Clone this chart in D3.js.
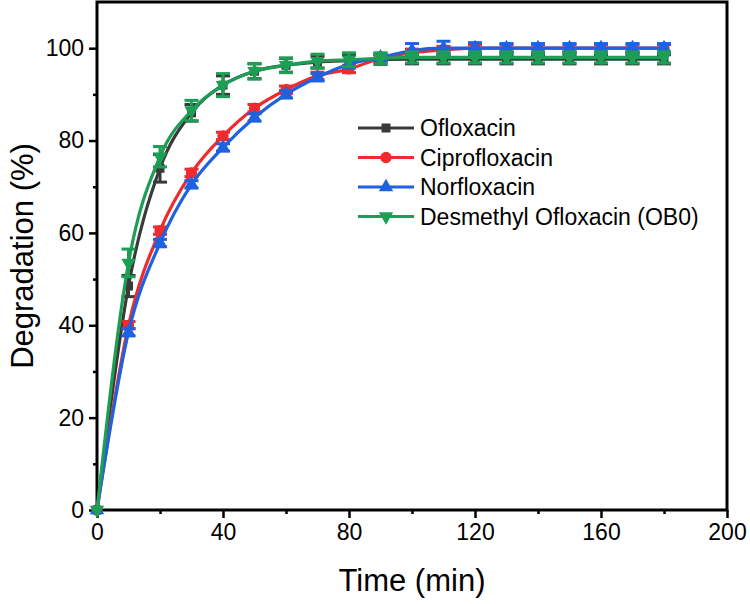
<!DOCTYPE html>
<html>
<head>
<meta charset="utf-8">
<script src="https://cdn.jsdelivr.net/npm/d3@7"></script>
<style>
	body { margin: 0; background: #fff; }
	svg text { font-family: "Liberation Sans", Arial, sans-serif; fill: #000; }
</style>
</head>
<body>
<div id="graphe"></div>
<script>
"use strict";

// DONNÉES

var temps = [0, 10, 20, 30, 40, 50, 60, 70, 80, 90, 100, 110, 120, 130, 140, 150, 160, 170, 180];

var ofloxacine = [0, 48.5, 74, 86, 92, 95, 96.3, 97, 97.3, 97.5, 97.6, 97.6, 97.6, 97.6, 97.6, 97.6, 97.6, 97.6, 97.6];
var ofloxacineErr = [0, 2.3, 3, 1.8, 2, 1.6, 1.5, 1.3, 1.2, 1, 1, 1, 1, 1, 1, 1, 1, 1, 1];

var ciprofloxacine = [0, 40, 60.5, 73, 81, 87, 91, 94, 95.5, 97.8, 99, 99.6, 100, 100, 100, 100, 100, 100, 100];
var ciprofloxacineErr = [0, 0.8, 0.8, 0.8, 0.8, 0.8, 0.8, 0.8, 0.8, 0.8, 0.8, 0.8, 0.8, 0.8, 0.8, 0.8, 0.8, 0.8, 0.8];

var norfloxacine = [0, 38.5, 57.8, 70.5, 78.5, 85, 90, 93.7, 96.5, 98, 99.5, 100, 100, 100, 100, 100, 100, 100, 100];
var norfloxacineErr = [0, 0.8, 0.8, 0.8, 0.8, 0.8, 0.8, 0.8, 0.8, 0.8, 1.5, 1.5, 1.2, 1, 1, 1, 1, 1, 1];

var desmethyl = [0, 53.5, 76.5, 86.5, 92, 95, 96.3, 97.2, 97.5, 97.8, 98, 98, 98, 98, 98, 98, 98, 98, 98];
var desmethylErr = [0, 3, 2.2, 2.2, 2.5, 1.7, 1.6, 1.5, 1.5, 1.2, 1.2, 1.2, 1.2, 1.2, 1.2, 1.2, 1.2, 1.2, 1.2];

var noms = ["Ofloxacin", "Ciprofloxacin", "Norfloxacin", "Desmethyl Ofloxacin (OB0)"];
var couleurs = ["#3a3a3a", "#ef2b2d", "#1f62e0", "#1c9f55"];
var ticksX = [0, 40, 80, 120, 160, 200];
var ticksY = [0, 20, 40, 60, 80, 100];

var series = [
	{ nom: noms[0], valeurs: ofloxacine, erreurs: ofloxacineErr, couleur: couleurs[0], symbole: d3.symbolSquare, taille: 81, rot: 0 },
	{ nom: noms[1], valeurs: ciprofloxacine, erreurs: ciprofloxacineErr, couleur: couleurs[1], symbole: d3.symbolCircle, taille: 100, rot: 0 },
	{ nom: noms[2], valeurs: norfloxacine, erreurs: norfloxacineErr, couleur: couleurs[2], symbole: d3.symbolTriangle, taille: 90, rot: 0 },
	{ nom: noms[3], valeurs: desmethyl, erreurs: desmethylErr, couleur: couleurs[3], symbole: d3.symbolTriangle, taille: 90, rot: 180 }
];

// DIMENSIONS

var largeur = 750, hauteur = 604;
var marge = { top: 2, right: 23, bottom: 94, left: 97 };

var x = d3.scaleLinear()
.domain([0, 200])
.range([marge.left, largeur - marge.right]);

var y = d3.scaleLinear()
.domain([0, 110])
.range([hauteur - marge.bottom, marge.top]);

var svg = d3.select("#graphe")
.append("svg")
.attr("width", largeur)
.attr("height", hauteur);

// axes : mineurs puis majeurs
var gX = svg.append("g")
.attr("transform", "translate(0," + y(0) + ")");
gX.call(d3.axisBottom(x)
	.tickValues(d3.range(20, 200, 40))
	.tickSize(4)
	.tickFormat(""));
gX.call(g => g.append("g").call(d3.axisBottom(x)
	.tickValues(ticksX)
	.tickSize(8)
	.tickPadding(6)));

var gY = svg.append("g")
.attr("transform", "translate(" + x(0) + ",0)");
gY.call(d3.axisLeft(y)
	.tickValues(d3.range(10, 110, 20))
	.tickSize(4)
	.tickFormat(""));
gY.call(g => g.append("g").call(d3.axisLeft(y)
	.tickValues(ticksY)
	.tickSize(8)
	.tickPadding(5)));

svg.selectAll(".domain").remove();
svg.selectAll(".tick line")
.attr("stroke", "#000")
.attr("stroke-width", 2.5);
svg.selectAll(".tick text")
.style("font-size", "23px")
.style("font-family", "Liberation Sans, Arial, sans-serif");

// cadre
svg.append("rect")
.attr("x", x(0))
.attr("y", y(110))
.attr("width", x(200) - x(0))
.attr("height", y(0) - y(110))
.attr("fill", "none")
.attr("stroke", "#000")
.attr("stroke-width", 3);

// titres des axes
svg.append("text")
.attr("x", (x(0) + x(200)) / 2)
.attr("y", 591)
.attr("text-anchor", "middle")
.style("font-size", "31px")
.text("Time (min)");

svg.append("text")
.attr("transform", "translate(33," + y(55) + ") rotate(-90)")
.attr("text-anchor", "middle")
.style("font-size", "31px")
.text("Degradation (%)");

// courbes, barres d'erreur, symboles
var ligne = d3.line()
.x(d => x(d[0]))
.y(d => y(d[1]))
.curve(d3.curveMonotoneX);

var gSeries = svg.append("g");

series.forEach(function (s) {
	var points = temps.map((t, i) => [t, s.valeurs[i], s.erreurs[i]]);
	var g = gSeries.append("g");

	g.append("path")
	.attr("d", ligne(points))
	.attr("fill", "none")
	.attr("stroke", s.couleur)
	.attr("stroke-width", 3.2);

	var barres = g.selectAll("g.err")
	.data(points.filter(d => d[2] > 0))
	.enter()
		.append("g")
		.attr("class", "err")
		.attr("stroke", s.couleur)
		.attr("stroke-width", 3);
	barres.append("line")
	.attr("x1", d => x(d[0]))
	.attr("x2", d => x(d[0]))
	.attr("y1", d => y(d[1] - d[2]))
	.attr("y2", d => y(d[1] + d[2]));
	barres.append("line")
	.attr("x1", d => x(d[0]) - 7)
	.attr("x2", d => x(d[0]) + 7)
	.attr("y1", d => y(d[1] - d[2]))
	.attr("y2", d => y(d[1] - d[2]));
	barres.append("line")
	.attr("x1", d => x(d[0]) - 7)
	.attr("x2", d => x(d[0]) + 7)
	.attr("y1", d => y(d[1] + d[2]))
	.attr("y2", d => y(d[1] + d[2]));

	g.selectAll("path.pt")
	.data(points)
	.enter()
		.append("path")
		.attr("class", "pt")
		.attr("d", d3.symbol(s.symbole, s.taille))
		.attr("transform", d => "translate(" + x(d[0]) + "," + y(d[1]) + ") rotate(" + s.rot + ")")
		.attr("fill", s.couleur);
});

// légende
var gLegende = svg.append("g")
.attr("transform", "translate(358,128)");

var entrees = gLegende.selectAll("g")
.data(series)
.enter()
	.append("g")
	.attr("transform", (d, i) => "translate(0," + i * 29.5 + ")");
entrees.append("line")
.attr("x1", 0)
.attr("x2", 56)
.attr("stroke", d => d.couleur)
.attr("stroke-width", 3);
entrees.append("path")
.attr("d", d => d3.symbol(d.symbole, d.taille)())
.attr("transform", d => "translate(28,0) rotate(" + d.rot + ")")
.attr("fill", d => d.couleur);
entrees.append("text")
.attr("x", 62)
.attr("dy", "0.36em")
.style("font-size", "23px")
.text(d => d.nom);
</script>
</body>
</html>
